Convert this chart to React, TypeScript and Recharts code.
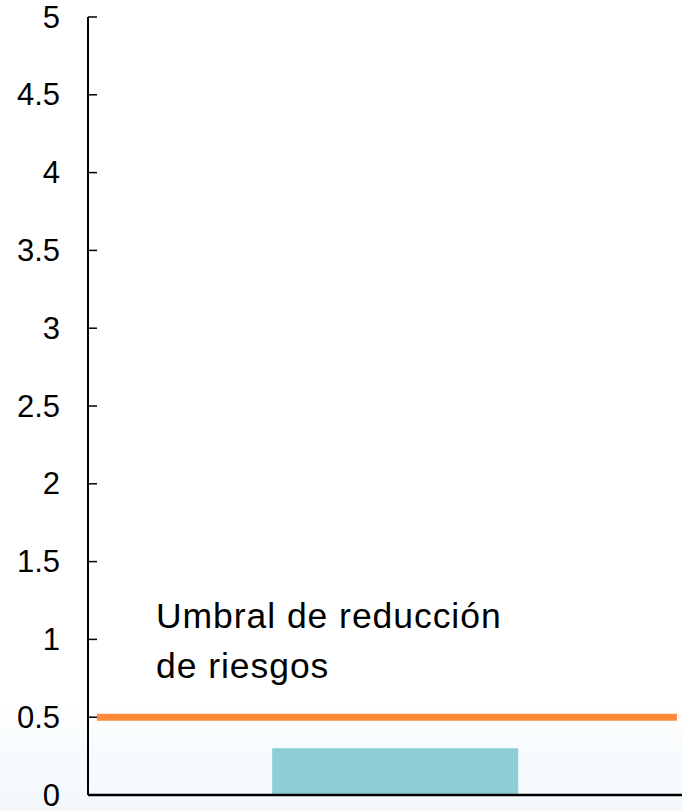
import React from 'react';
import { BarChart, Bar, XAxis, YAxis, ReferenceLine } from 'recharts';

const categories = ['Medición'];
const values = [0.3];
const yTicks = [0, 0.5, 1, 1.5, 2, 2.5, 3, 3.5, 4, 4.5, 5];
const threshold = 0.5;
const thresholdLabel = ['Umbral de reducción', 'de riesgos'];

const data = categories.map((name, i) => ({ name, value: values[i] }));

const FONT = 'Liberation Sans, Arial, Helvetica, sans-serif';

// tick mark points into the plot, label sits to the left of the axis
function InwardTick(props: any) {
  const { x, y, payload } = props;
  return (
    <g>
      <line x1={x} y1={y} x2={x + 9} y2={y} stroke="#000" strokeWidth={1.5} />
      <text
        x={x - 28}
        y={y}
        textAnchor="end"
        dominantBaseline="central"
        fontFamily={FONT}
        fontSize={31}
        fill="#000"
      >
        {payload.value}
      </text>
    </g>
  );
}

export default function App() {
  return (
    <div
      style={{
        position: 'absolute',
        left: 0,
        top: 0,
        width: 682,
        height: 811,
        overflow: 'hidden',
        background: 'linear-gradient(to bottom, #ffffff 0%, #ffffff 86%, #f7fbfd 93%, #f2f8fb 100%)',
      }}
    >
      <BarChart
        width={702}
        height={811}
        data={data}
        margin={{ top: 17, right: 0, bottom: 14, left: 0 }}
        barCategoryGap="30%"
      >
        <XAxis
          dataKey="name"
          height={2}
          tick={false}
          tickLine={false}
          axisLine={{ stroke: '#000', strokeWidth: 2.5 }}
        />
        <YAxis
          width={88}
          domain={[0, 5]}
          ticks={yTicks}
          interval={0}
          tickSize={0}
          tickMargin={0}
          tickLine={false}
          axisLine={{ stroke: '#000', strokeWidth: 2 }}
          tick={<InwardTick />}
        />
        <Bar dataKey="value" fill="#8dced6" isAnimationActive={false} />
        <ReferenceLine
          y={threshold}
          stroke="#ff8a3a"
          strokeWidth={7}
          strokeDasharray="0 9 580 200"
        />
      </BarChart>
      <div
        style={{
          position: 'absolute',
          left: 156,
          top: 591,
          fontFamily: FONT,
          fontSize: 35.5,
          lineHeight: '50px',
          color: '#000',
          letterSpacing: 0.95,
          whiteSpace: 'nowrap',
        }}
      >
        {thresholdLabel.map((line) => (
          <div key={line}>{line}</div>
        ))}
      </div>
    </div>
  );
}
